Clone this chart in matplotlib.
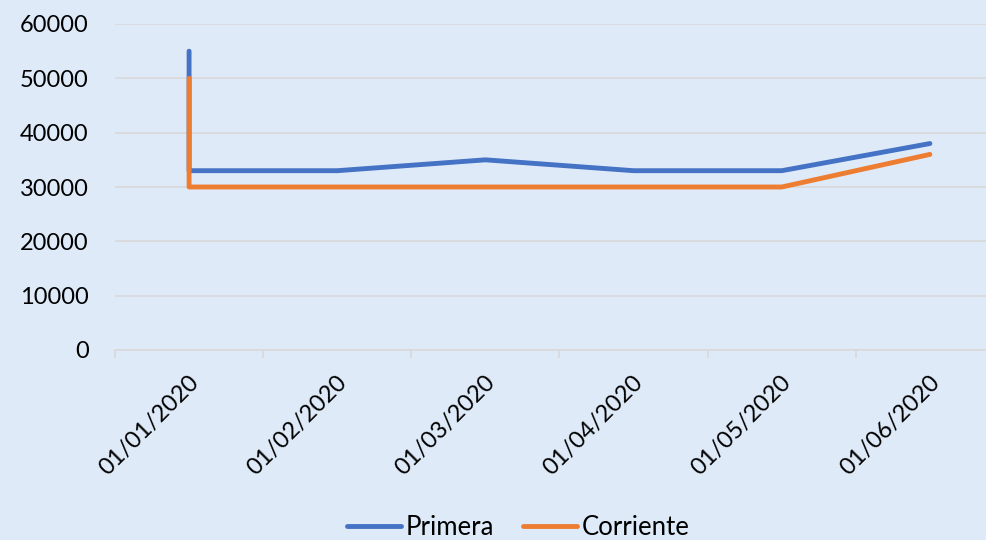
import matplotlib
matplotlib.use("Agg")
import matplotlib.pyplot as plt
from matplotlib.transforms import ScaledTranslation

# Datos
categorias = ["01/01/2020", "01/02/2020", "01/03/2020", "01/04/2020", "01/05/2020", "01/06/2020"]
fechas = ["01/01/2020", "01/01/2020", "01/02/2020", "01/03/2020", "01/04/2020", "01/05/2020", "01/06/2020"]
primera = [55000, 33000, 33000, 35000, 33000, 33000, 38000]
corriente = [50000, 30000, 30000, 30000, 30000, 30000, 36000]

fondo = "#DEEAF8"
plt.rcParams['font.family'] = ['Lato', 'DejaVu Sans']
fs = 17

fig = plt.figure(figsize=(9.87, 5.4), dpi=100, facecolor=fondo)
ax = fig.add_axes([115 / 987, 1 - 350 / 540, 889 / 987, 326 / 540])
ax.set_facecolor(fondo)

x = [categorias.index(f) for f in fechas]
ax.plot(x, primera, color="#4472C4", lw=3.5, solid_capstyle="round", solid_joinstyle="round", label="Primera")
ax.plot(x, corriente, color="#ED7D31", lw=3.5, solid_capstyle="round", solid_joinstyle="round", label="Corriente")

ax.set_xlim(-0.5, len(categorias) - 0.5)
ax.set_ylim(0, 60000)
ax.set_yticks(range(0, 60001, 10000))
ax.grid(axis="y", color="#D9D9D9", lw=1.2)
ax.set_axisbelow(True)
for s in ["top", "right", "left"]:
    ax.spines[s].set_visible(False)
ax.spines["bottom"].set_color("#D9D9D9")
ax.spines["bottom"].set_linewidth(1.2)

ax.set_xticks(range(len(categorias)))
ax.set_xticklabels(categorias, rotation=45, ha="right", va="center", rotation_mode="anchor")
ax.set_xticks([i - 0.5 for i in range(len(categorias) + 1)], minor=True)
ax.tick_params(axis="x", which="major", length=0, pad=21, labelsize=fs)
ax.tick_params(axis="x", which="minor", length=6, width=1.2, color="#D9D9D9")
ax.tick_params(axis="y", length=0, pad=19, labelsize=fs)
off = ScaledTranslation(4.5 / 72, 0, fig.dpi_scale_trans)
for lbl in ax.get_xticklabels():
    lbl.set_transform(lbl.get_transform() + off)

fig.legend(loc="center", bbox_to_anchor=(0.525, 0.024), ncol=2, frameon=False,
           fontsize=18.5, handlelength=2.1, handletextpad=0.2, columnspacing=1.1)

fig.savefig("out.png", dpi=100, facecolor=fondo)
